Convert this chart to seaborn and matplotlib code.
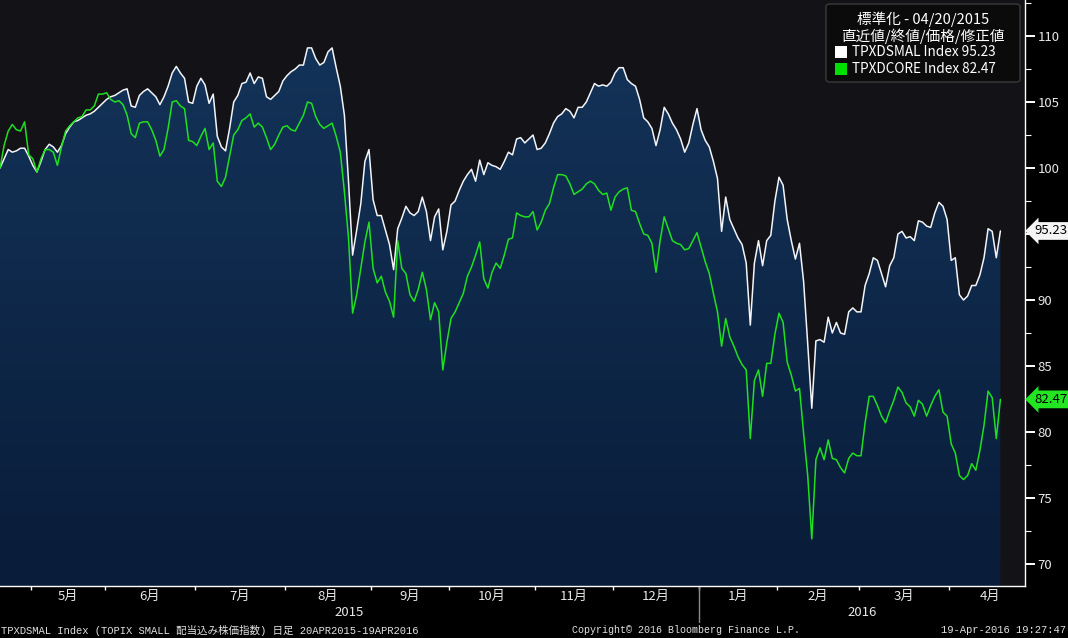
import numpy as np
import pandas as pd
import matplotlib
matplotlib.use('Agg')
import matplotlib.pyplot as plt
import seaborn as sns
from matplotlib.patches import FancyBboxPatch, Rectangle, PathPatch
from matplotlib.colors import LinearSegmentedColormap
import matplotlib.transforms as mtrans

# ---------------- data (normalised, 04/20/2015 = 100) ----------------
tpxdsmal = [
    100.0, 100.7, 101.4, 101.2, 101.3, 101.5, 101.5, 100.9, 100.2, 99.7,
    100.5, 101.4, 101.8, 101.6, 101.2, 101.7, 102.6, 103.1, 103.5, 103.6,
    103.8, 104.0, 104.1, 104.3, 104.6, 104.9, 105.2, 105.4, 105.5, 105.7,
    105.9, 106.0, 104.7, 104.6, 105.5, 105.8, 106.0, 105.7, 105.4, 104.8,
    105.4, 106.2, 107.2, 107.7, 107.2, 106.8, 105.0, 104.9, 106.2, 106.8,
    106.3, 104.9, 105.6, 102.4, 101.6, 101.3, 103.0, 105.0, 105.5, 106.4,
    106.5, 107.2, 106.4, 106.9, 106.8, 105.4, 105.2,
    105.5, 105.8, 106.6, 107.0, 107.3, 107.5, 107.8, 107.8, 109.1, 109.1,
    108.3, 107.8, 108.0, 108.8, 109.1, 107.6, 106.2, 104.0, 99.0, 93.4,
    95.3, 97.3, 100.5, 101.4, 97.6, 96.4, 96.4, 95.3, 94.2, 92.3,
    95.4, 96.2, 97.1, 96.6, 96.4, 96.7, 97.8, 96.7, 94.5, 96.3,
    96.9, 93.8, 95.2, 97.2, 97.5, 98.3, 99.0, 99.5, 99.9, 99.0,
    100.6, 99.5, 100.4, 100.2, 100.1, 99.9, 100.5, 101.2, 101.0, 102.2,
    102.3,
    101.9, 102.2, 102.5, 101.4, 101.5, 101.9, 102.6, 103.4, 103.9, 104.1,
    104.5, 104.3, 103.8, 104.6, 104.6, 105.0, 105.7, 106.4, 106.2, 106.3,
    106.2, 106.5, 107.2, 107.6, 107.6, 106.7, 106.4, 106.2, 105.2, 103.8,
    103.5, 103.0, 101.7, 102.9, 104.6, 104.1, 103.4, 102.9, 102.2, 101.2,
    101.9, 103.3, 104.5, 102.9, 102.1, 101.6, 100.5, 99.2, 95.2, 97.8,
    96.1, 95.4, 94.7, 94.2, 92.8, 88.1, 92.8, 94.5, 92.6, 94.5,
    94.9,
    97.5, 99.3, 98.7, 96.1, 94.5, 93.1, 94.3, 91.4, 86.7, 81.8,
    86.9, 87.0, 86.8, 88.7, 87.5, 88.3, 87.5, 87.4, 89.1, 89.4,
    89.1, 89.1, 91.1, 92.0, 93.2, 93.0, 92.0, 91.0, 92.6, 93.2,
    95.0, 95.2, 94.7, 94.8, 94.5, 96.0, 95.9, 95.6, 95.5, 96.6,
    97.4, 97.1, 96.1, 93.0, 93.2, 90.4, 90.0, 90.3, 91.1, 91.1,
    91.9, 93.2, 95.4, 95.2, 93.2, 95.23,
]
tpxdcore = [
    100.0, 101.7, 102.8, 103.3, 102.9, 102.8, 103.5, 101.0, 100.7, 99.7,
    100.7, 101.4, 101.4, 101.2, 100.2, 101.6, 102.8, 103.2, 103.5, 103.8,
    103.9, 104.4, 104.4, 104.7, 105.6, 105.6, 105.7, 105.2, 105.0, 105.1,
    104.8, 104.0, 102.6, 102.3, 103.4, 103.5, 103.5, 102.9, 102.1, 100.9,
    101.4, 103.0, 105.0, 105.1, 104.7, 104.5, 102.1, 102.0, 101.7, 102.4,
    103.0, 101.4, 101.9, 99.0, 98.6, 99.3, 100.9, 102.5, 102.9, 103.6,
    103.8, 104.1, 103.1, 103.4, 103.1, 102.3, 101.4,
    101.8, 102.5, 103.1, 103.2, 102.9, 102.8, 103.4, 104.0, 105.0, 104.9,
    103.9, 103.3, 103.0, 103.2, 103.4, 102.4, 101.2, 98.2, 94.7, 89.0,
    90.4, 92.4, 94.4, 95.9, 92.4, 91.3, 91.8, 90.6, 89.9, 88.7,
    94.5, 92.4, 92.0, 90.4, 89.9, 90.8, 92.1, 90.8, 88.5, 89.8,
    89.1, 84.7, 86.8, 88.6, 89.1, 89.8, 90.5, 91.8, 92.5, 93.4,
    94.4, 91.6, 90.9, 92.1, 92.8, 92.4, 93.4, 94.6, 94.7, 96.6,
    96.4,
    96.3, 96.3, 96.7, 95.3, 95.9, 96.8, 97.3, 98.5, 99.5, 99.5,
    99.4, 98.8, 98.0, 98.2, 98.4, 98.8, 99.0, 98.8, 98.3, 98.0,
    98.1, 96.8, 97.8, 98.2, 98.4, 98.5, 96.8, 96.7, 95.8, 95.0,
    94.9, 94.3, 92.1, 94.5, 96.3, 95.4, 94.5, 94.3, 94.2, 93.8,
    93.9, 94.5, 95.1, 94.0, 92.9, 92.0, 90.5, 89.1, 86.5, 88.6,
    87.2, 86.5, 85.7, 85.1, 84.7, 79.5, 83.9, 84.7, 82.7, 85.2,
    85.2,
    87.4, 89.0, 88.3, 85.3, 84.3, 83.1, 83.3, 79.9, 76.7, 71.9,
    77.9, 78.8, 77.9, 79.4, 78.0, 77.9, 77.3, 76.9, 78.0, 78.4,
    78.2, 78.2, 80.7, 82.7, 82.7, 82.0, 81.2, 80.7, 81.6, 82.4,
    83.4, 83.0, 82.2, 81.9, 81.2, 82.4, 82.1, 81.2, 82.0, 82.7,
    83.2, 81.5, 81.2, 79.1, 78.4, 76.7, 76.4, 76.7, 77.6, 77.1,
    78.6, 80.5, 83.1, 82.6, 79.5, 82.47,
]
series_names = ['TPXDSMAL Index', 'TPXDCORE Index']
last_values = [95.23, 82.47]
series_colors = ['#f2f4f8', '#1fe01f']
yticks = [70, 75, 80, 85, 90, 95, 100, 105, 110]
ytick_labels = ['70', '75', '80', '85', '90', '', '100', '105', '110']  # 95 hidden under the tag
legend_title = ['標準化 - 04/20/2015', '直近値/終値/価格/修正値']
footer_left = 'TPXDSMAL Index (TOPIX SMALL 配当込み株価指数) 日足 20APR2015-19APR2016'
footer_mid = 'Copyright© 2016 Bloomberg Finance L.P.'
footer_right = '19-Apr-2016 19:27:47'

# Tokyo exchange trading calendar (weekday holidays removed)
holidays = pd.to_datetime([
    '2015-04-29', '2015-05-04', '2015-05-05', '2015-05-06', '2015-07-20',
    '2015-09-21', '2015-09-22', '2015-09-23', '2015-10-12', '2015-11-03',
    '2015-11-23', '2015-12-23', '2015-12-31', '2016-01-01', '2016-01-11',
    '2016-02-11', '2016-03-21', '2016-04-29', '2016-05-03', '2016-05-04',
    '2016-05-05'])
cal = pd.bdate_range('2015-04-20', '2016-05-31')
cal = cal[~cal.isin(holidays)]
n = len(tpxdsmal)
idx = np.arange(n)

# ---------------- style ----------------
sns.set_theme(style='dark')
plt.rcParams['font.family'] = ['Noto Sans CJK JP', 'DejaVu Sans']

W, H = 1068, 638
fig = plt.figure(figsize=(W / 100, H / 100), dpi=100, facecolor='black')
ax = fig.add_axes([0, 1 - 586 / H, 1025 / W, 586 / H])
ax.set_facecolor('#131216')

YLO, YHI = 68.33, 112.73
XLO, XHI = 0, 250

# gradient area under TPXDSMAL
fb = ax.fill_between(idx, tpxdsmal, YLO, color='none', lw=0)
grad = np.linspace(0, 1, 256).reshape(-1, 1)
cmap = LinearSegmentedColormap.from_list('bb', ['#091c39', '#14355b'])
im = ax.imshow(grad, extent=[0, n - 1, YLO, YHI], origin='lower',
               aspect='auto', cmap=cmap, zorder=1, interpolation='bicubic')
clip = PathPatch(fb.get_paths()[0], transform=ax.transData, fc='none', ec='none')
ax.add_patch(clip)
im.set_clip_path(clip)

df = pd.DataFrame({
    'idx': np.concatenate([idx, idx]),
    'value': tpxdsmal + tpxdcore,
    'series': [series_names[0]] * n + [series_names[1]] * n,
})
sns.lineplot(data=df, x='idx', y='value', hue='series',
             palette=dict(zip(series_names, series_colors)),
             legend=False, lw=1.1, ax=ax, zorder=3)

ax.set_xlabel('')
ax.set_ylabel('')
ax.grid(False)

for s in ['top', 'left']:
    ax.spines[s].set_visible(False)
for s in ['right', 'bottom']:
    ax.spines[s].set_visible(True)
    ax.spines[s].set_color('white')
    ax.spines[s].set_linewidth(1.0)

# y axis on the right
ax.yaxis.tick_right()
ax.set_yticks(yticks)
ax.set_yticklabels(ytick_labels)
ax.set_yticks(np.arange(72.5, 112.6, 5), minor=True)
ax.tick_params(axis='y', which='major', direction='out', length=7, width=1.4,
               colors='white', labelcolor='#e8e8e8', labelsize=9.5, pad=2,
               left=False, right=True)
ax.tick_params(axis='y', which='minor', direction='out', length=4, width=0.8,
               colors='white', left=False, right=True)

# month boundaries / labels
bounds = [k - 0.5 for k in range(1, len(cal)) if cal[k].month != cal[k - 1].month]
bmonths = [cal[k].month for k in range(1, len(cal)) if cal[k].month != cal[k - 1].month]
tick_b = [b for b in bounds if b < XHI]
centers, labels = [], []
for j in range(len(bounds) - 1):
    c = (bounds[j] + bounds[j + 1]) / 2
    if c < XHI:
        centers.append(c)
        labels.append(f'{bmonths[j]}月')
ax.set_xticks(tick_b)
ax.set_xticklabels([])
ax.set_xticks(centers, minor=True)
ax.set_xticklabels(labels, minor=True)
ax.tick_params(axis='x', which='major', direction='out', length=3, width=1,
               colors='white', bottom=True)
ax.tick_params(axis='x', which='minor', length=0, labelsize=9.5,
               labelcolor='#e8e8e8', pad=3, bottom=True)

ax.set_xlim(XLO, XHI)
ax.set_ylim(YLO, YHI)

# year labels and separator
jan_b = [b for b, m in zip(bounds, bmonths) if m == 1][0]
bt = mtrans.blended_transform_factory(ax.transData, ax.transAxes)
ax.plot([jan_b, jan_b], [0, -36 / 586], transform=bt, color='#8a8a8a',
        lw=1, clip_on=False)
ax.text((XLO + jan_b) / 2, -27 / 586, '2015', transform=bt, ha='center',
        va='center', color='#e8e8e8', fontsize=9.5)
ax.text((jan_b + XHI) / 2, -27 / 586, '2016', transform=bt, ha='center',
        va='center', color='#e8e8e8', fontsize=9.5)

# last-value tags on the axis
tag_colors = ['#f4f4f4', '#22e622']
for val, fc in zip(last_values, tag_colors):
    ax.annotate(f'{val:.2f}', xy=(1.0, val), xycoords=('axes fraction', 'data'),
                xytext=(7, 0), textcoords='offset points', ha='left', va='center',
                fontsize=9.5, color='black', annotation_clip=False, zorder=6,
                bbox=dict(boxstyle='larrow,pad=0.18', fc=fc, ec='none'))

# legend box
fig.patches.append(FancyBboxPatch((826 / W, 1 - 82 / H), (1020 - 826) / W, (82 - 4) / H,
                                  boxstyle='round,pad=0,rounding_size=0.004',
                                  transform=fig.transFigure, fc='#0b0b0b',
                                  ec='#3a3a3a', lw=1, zorder=5))
fig.text(923 / W, 1 - 19 / H, legend_title[0], ha='center', va='center',
         color='white', fontsize=10.5, zorder=6)
fig.text(923 / W, 1 - 36 / H, legend_title[1], ha='center', va='center',
         color='white', fontsize=10.5, zorder=6)
for k, (name, val, col) in enumerate(zip(series_names, last_values, ['#ffffff', '#00e000'])):
    yc = 52 + 17 * k
    fig.patches.append(Rectangle((835 / W, 1 - (yc + 6) / H), 12 / W, 12 / H,
                                 transform=fig.transFigure, fc=col, ec='none', zorder=6))
    fig.text(852 / W, 1 - yc / H, f'{name} {val:.2f}', ha='left', va='center',
             color='white', fontsize=9.8, zorder=6)

# footer
mono = ['Liberation Mono', 'Noto Sans CJK JP']
fig.text(1 / W, 1 - 630 / H, footer_left, ha='left', va='center', color='#e0e0e0',
         fontsize=7.6, family=mono)
fig.text(572 / W, 1 - 630 / H, footer_mid, ha='left', va='center', color='#e0e0e0',
         fontsize=7.2, family=mono)
fig.text(1066 / W, 1 - 630 / H, footer_right, ha='right', va='center', color='#e0e0e0',
         fontsize=7.6, family=mono)

fig.savefig('out.png', dpi=100, facecolor='black')
